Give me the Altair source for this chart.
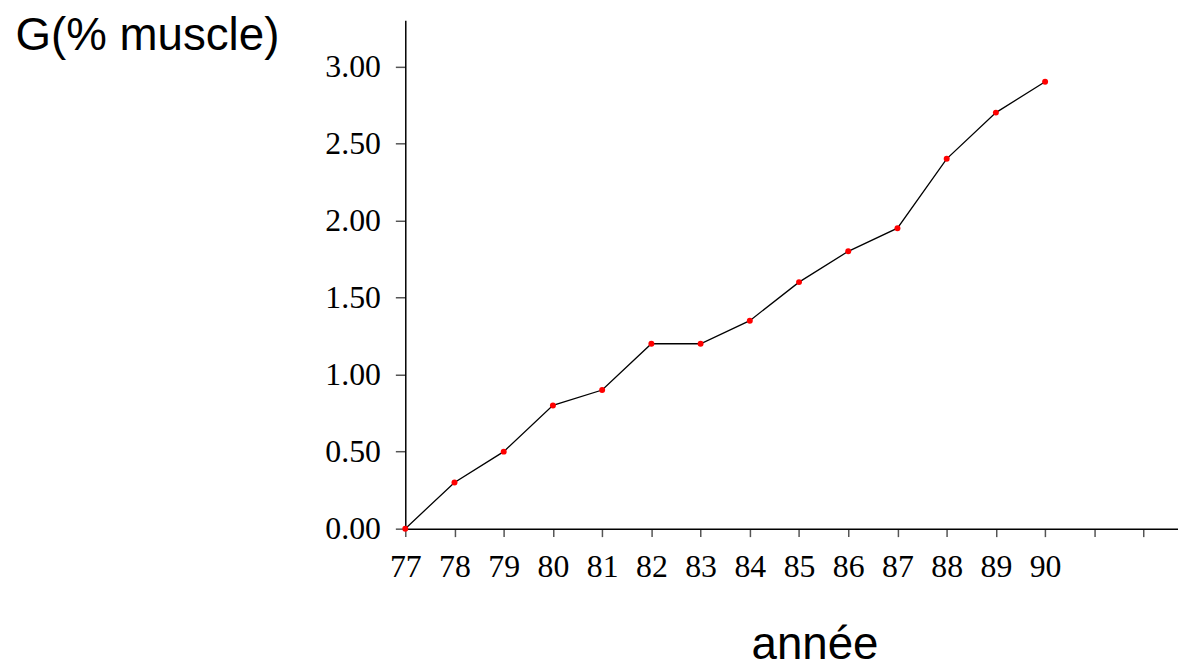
import altair as alt
import pandas as pd

# Data
years = [77, 78, 79, 80, 81, 82, 83, 84, 85, 86, 87, 88, 89, 90]
g_values = [0.0, 0.3, 0.5, 0.8, 0.9, 1.2, 1.2, 1.35, 1.6, 1.8, 1.95, 2.4, 2.7, 2.9]
x_tick_values = list(range(77, 93))
y_tick_values = [0.0, 0.5, 1.0, 1.5, 2.0, 2.5, 3.0]

df = pd.DataFrame({"annee": years, "g": g_values})

serif = "Liberation Serif"
sans = "Liberation Sans"

x_enc = alt.X(
    "annee:Q",
    scale=alt.Scale(domain=[77, 92.7], nice=False, zero=False),
    axis=alt.Axis(
        values=x_tick_values,
        labelExpr="datum.value <= 90 ? datum.value : ''",
        labelFont=serif,
        labelFontSize=32,
        labelColor="black",
        labelPadding=15,
        labelFlush=False,
        labelOverlap=False,
        tickSize=8,
        tickColor="#555555",
        tickWidth=1.5,
        domainColor="black",
        domainWidth=1.5,
        grid=False,
        title="année",
        titleFont=sans,
        titleFontSize=46,
        titleFontWeight="normal",
        titleColor="black",
        titleAlign="center",
        titleBaseline="alphabetic",
        titleX=412,
        titleY=131,
    ),
)

y_enc = alt.Y(
    "g:Q",
    scale=alt.Scale(domain=[0, 3.3], nice=False, zero=True),
    axis=alt.Axis(
        values=y_tick_values,
        format=".2f",
        labelFont=serif,
        labelFontSize=32,
        labelColor="black",
        labelPadding=15,
        labelFlush=False,
        labelOverlap=False,
        tickSize=10,
        tickColor="#555555",
        tickWidth=1.5,
        domainColor="black",
        domainWidth=1.5,
        grid=False,
        title="G(% muscle)",
        titleFont=sans,
        titleFontSize=46,
        titleFontWeight="normal",
        titleColor="black",
        titleAngle=0,
        titleAlign="left",
        titleBaseline="alphabetic",
        titleX=-393,
        titleY=30,
    ),
)

line = alt.Chart(df).mark_line(color="black", strokeWidth=1.3).encode(x=x_enc, y=y_enc)
points = alt.Chart(df).mark_point(
    filled=True, shape="circle", color="red", size=36, opacity=1
).encode(x="annee:Q", y="g:Q")

chart = (
    alt.layer(line, points)
    .properties(
        width=778,
        height=512,
        autosize=alt.AutoSizeParams(type="none"),
        padding={"left": 400, "top": 10, "right": 0, "bottom": 133},
        background="white",
    )
    .configure_view(strokeWidth=0)
)

chart.save("out.html", embed_options={"renderer": "svg", "actions": False})
